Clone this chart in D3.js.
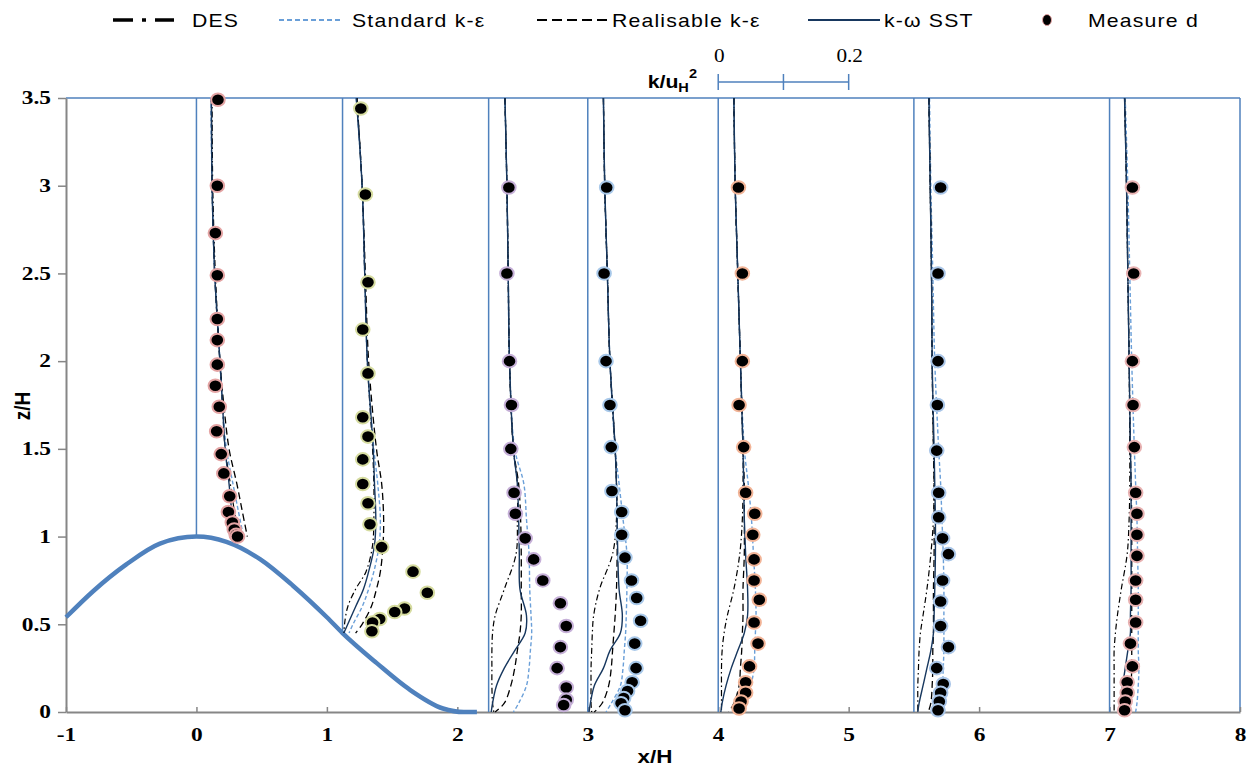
<!DOCTYPE html>
<html>
<head>
<meta charset="utf-8">
<script src="https://cdn.jsdelivr.net/npm/d3@7"></script>
<style>
body{margin:0;background:#fff;}
svg{display:block;background:#fff;}
</style>
</head>
<body>
<svg id="svg" width="1260" height="771"></svg>
<script>
// profile stations (x/H) and the ground height under each one
var stations = [0, 1.12, 2.24, 3, 4, 5.5, 7];
var stationBase = [1.0, 0.45, 0, 0, 0, 0, 0];

// hill surface
var hillX = [-1, -0.79, -0.54, -0.28, 0, 0.23, 0.49, 0.74, 1.0, 1.12, 1.38, 1.63, 1.89, 2.05, 2.15];
var hillZ = [0.54, 0.69, 0.84, 0.96, 1.0, 0.97, 0.87, 0.72, 0.54, 0.45, 0.28, 0.13, 0.02, 0.0, 0.0];

// z/H levels of the model curves
var zHill = [3.5, 3.0, 2.5, 2.0, 1.75, 1.5, 1.3, 1.15, 1.0];
var zLee = [3.5, 3.0, 2.5, 2.0, 1.5, 1.3, 1.1, 0.95, 0.8, 0.7, 0.6, 0.5, 0.45];
var zFlat = [3.5, 3.0, 2.5, 2.0, 1.5, 1.3, 1.1, 0.9, 0.7, 0.55, 0.45, 0.35, 0.25, 0.15, 0.05, 0];
var modelZ = [zHill, zLee, zFlat, zFlat, zFlat, zFlat, zFlat];

// k/uH^2 of each model, one array per station
var desK = [
  [0.024, 0.025, 0.029, 0.036, 0.040, 0.044, 0.052, 0.058, 0.066],
  [0.022, 0.030, 0.034, 0.038, 0.046, 0.048, 0.048, 0.046, 0.036, 0.020, 0.008, 0.003, 0.002],
  [0.025, 0.028, 0.030, 0.032, 0.038, 0.044, 0.044, 0.042, 0.024, 0.010, 0.006, 0.005, 0.005, 0.005, 0.006, 0.008],
  [0.024, 0.026, 0.030, 0.034, 0.042, 0.044, 0.044, 0.038, 0.018, 0.009, 0.007, 0.006, 0.005, 0.005, 0.005, 0.006],
  [0.024, 0.026, 0.030, 0.034, 0.038, 0.038, 0.037, 0.033, 0.024, 0.014, 0.009, 0.006, 0.005, 0.005, 0.005, 0.005],
  [0.023, 0.025, 0.027, 0.028, 0.030, 0.031, 0.030, 0.026, 0.020, 0.014, 0.010, 0.008, 0.007, 0.006, 0.006, 0.006],
  [0.023, 0.026, 0.028, 0.030, 0.031, 0.031, 0.030, 0.027, 0.018, 0.012, 0.009, 0.007, 0.007, 0.007, 0.007, 0.007]
];
var stdK = [
  [0.022, 0.024, 0.028, 0.036, 0.040, 0.046, 0.056, 0.064, 0.072],
  [0.021, 0.030, 0.034, 0.038, 0.048, 0.054, 0.058, 0.056, 0.048, 0.040, 0.030, 0.016, 0.010],
  [0.025, 0.028, 0.030, 0.032, 0.040, 0.054, 0.058, 0.062, 0.063, 0.065, 0.066, 0.064, 0.062, 0.058, 0.046, 0.038],
  [0.024, 0.026, 0.030, 0.034, 0.042, 0.048, 0.054, 0.060, 0.060, 0.059, 0.058, 0.056, 0.054, 0.050, 0.036, 0.028],
  [0.024, 0.026, 0.030, 0.034, 0.040, 0.046, 0.051, 0.054, 0.057, 0.058, 0.057, 0.056, 0.055, 0.050, 0.042, 0.038],
  [0.024, 0.026, 0.029, 0.032, 0.038, 0.041, 0.043, 0.045, 0.046, 0.046, 0.046, 0.046, 0.045, 0.044, 0.042, 0.040],
  [0.024, 0.028, 0.031, 0.034, 0.038, 0.040, 0.042, 0.043, 0.044, 0.044, 0.044, 0.044, 0.045, 0.044, 0.042, 0.040]
];
var realK = [
  [0.023, 0.024, 0.028, 0.036, 0.042, 0.050, 0.062, 0.070, 0.078],
  [0.022, 0.030, 0.035, 0.040, 0.052, 0.060, 0.063, 0.062, 0.058, 0.052, 0.044, 0.030, 0.020],
  [0.025, 0.028, 0.030, 0.032, 0.038, 0.046, 0.049, 0.050, 0.050, 0.050, 0.048, 0.044, 0.040, 0.034, 0.024, 0.010],
  [0.024, 0.026, 0.030, 0.034, 0.042, 0.044, 0.045, 0.045, 0.044, 0.042, 0.040, 0.038, 0.036, 0.032, 0.022, 0.010],
  [0.024, 0.026, 0.030, 0.034, 0.038, 0.040, 0.040, 0.040, 0.038, 0.038, 0.037, 0.036, 0.034, 0.032, 0.024, 0.016],
  [0.023, 0.025, 0.027, 0.028, 0.030, 0.031, 0.031, 0.031, 0.030, 0.030, 0.030, 0.029, 0.029, 0.028, 0.026, 0.022],
  [0.023, 0.026, 0.028, 0.030, 0.032, 0.033, 0.034, 0.034, 0.034, 0.034, 0.034, 0.034, 0.034, 0.033, 0.032, 0.030]
];
var sstK = [
  [0.023, 0.024, 0.028, 0.036, 0.040, 0.044, 0.050, 0.054, 0.060],
  [0.021, 0.030, 0.034, 0.038, 0.047, 0.049, 0.051, 0.049, 0.040, 0.032, 0.020, 0.008, 0.002],
  [0.025, 0.028, 0.030, 0.032, 0.038, 0.044, 0.046, 0.047, 0.048, 0.058, 0.056, 0.040, 0.024, 0.012, 0.006, 0.004],
  [0.024, 0.026, 0.030, 0.034, 0.042, 0.044, 0.045, 0.046, 0.048, 0.053, 0.050, 0.034, 0.024, 0.010, 0.004, 0.002],
  [0.024, 0.026, 0.030, 0.034, 0.038, 0.039, 0.040, 0.042, 0.045, 0.045, 0.040, 0.030, 0.020, 0.012, 0.006, 0.004],
  [0.023, 0.025, 0.027, 0.028, 0.031, 0.032, 0.033, 0.033, 0.032, 0.031, 0.030, 0.026, 0.020, 0.014, 0.008, 0.006],
  [0.023, 0.026, 0.028, 0.030, 0.032, 0.033, 0.033, 0.033, 0.033, 0.032, 0.032, 0.028, 0.024, 0.020, 0.016, 0.014]
];

// measured points
var measZ = [
  [3.49, 3.0, 2.73, 2.49, 2.24, 2.12, 1.98, 1.86, 1.74, 1.60, 1.47, 1.36, 1.23, 1.14, 1.08, 1.04, 1.01, 1.0],
  [3.44, 2.95, 2.45, 2.18, 1.93, 1.68, 1.57, 1.44, 1.30, 1.19, 1.07, 0.94, 0.80, 0.68, 0.59, 0.57, 0.53, 0.51, 0.46],
  [2.99, 2.5, 2.0, 1.75, 1.5, 1.25, 1.13, 0.99, 0.87, 0.75, 0.62, 0.49, 0.37, 0.25, 0.14, 0.07, 0.04],
  [2.99, 2.5, 2.0, 1.75, 1.51, 1.26, 1.14, 1.01, 0.88, 0.75, 0.65, 0.52, 0.39, 0.25, 0.17, 0.12, 0.08, 0.05, 0.01],
  [2.99, 2.5, 2.0, 1.75, 1.51, 1.25, 1.13, 1.01, 0.87, 0.75, 0.64, 0.51, 0.39, 0.26, 0.17, 0.11, 0.06, 0.02],
  [2.99, 2.5, 2.0, 1.75, 1.49, 1.25, 1.11, 0.99, 0.90, 0.75, 0.63, 0.49, 0.37, 0.25, 0.16, 0.11, 0.06, 0.01],
  [2.99, 2.5, 2.0, 1.75, 1.51, 1.25, 1.13, 1.01, 0.89, 0.75, 0.64, 0.51, 0.39, 0.26, 0.17, 0.11, 0.06, 0.01]
];
var measK = [
  [0.033, 0.032, 0.029, 0.032, 0.032, 0.032, 0.032, 0.029, 0.035, 0.031, 0.038, 0.042, 0.051, 0.049, 0.055, 0.058, 0.061, 0.063],
  [0.028, 0.035, 0.039, 0.031, 0.039, 0.031, 0.039, 0.031, 0.031, 0.039, 0.042, 0.060, 0.108, 0.130, 0.095, 0.080, 0.057, 0.046, 0.045],
  [0.031, 0.028, 0.032, 0.035, 0.034, 0.039, 0.041, 0.056, 0.069, 0.083, 0.110, 0.119, 0.110, 0.105, 0.119, 0.119, 0.115],
  [0.029, 0.025, 0.028, 0.034, 0.036, 0.037, 0.052, 0.052, 0.057, 0.067, 0.075, 0.081, 0.072, 0.074, 0.068, 0.061, 0.055, 0.051, 0.057],
  [0.031, 0.037, 0.037, 0.032, 0.039, 0.042, 0.056, 0.053, 0.055, 0.055, 0.063, 0.055, 0.061, 0.048, 0.042, 0.042, 0.035, 0.032],
  [0.041, 0.037, 0.037, 0.036, 0.035, 0.038, 0.038, 0.044, 0.053, 0.044, 0.041, 0.041, 0.053, 0.035, 0.045, 0.041, 0.039, 0.037],
  [0.035, 0.037, 0.035, 0.036, 0.038, 0.040, 0.042, 0.042, 0.042, 0.040, 0.040, 0.040, 0.032, 0.035, 0.027, 0.027, 0.024, 0.023]
];

var xTicks = [-1, 0, 1, 2, 3, 4, 5, 6, 7, 8];
var yTicks = [0, 0.5, 1, 1.5, 2, 2.5, 3, 3.5];
var scaleTicks = [0, 0.1, 0.2];
var scaleLabels = ["0", "", "0.2"];
var legendNames = ["DES", "Standard k-\u03b5", "Realisable k-\u03b5", "k-\u03c9 SST", "Measure d"];

// styles
var blue = "#4f81bd", navy = "#17375e", lightBlue = "#6a9fd8", grey = "#868686";
var halo = ["#e4a4a4", "#d6dca0", "#c6b0d8", "#a9c9ea", "#f2b497", "#aac6e8", "#e8b2b2"];
var SX = 1.18; // the picture is stretched sideways

var svg = d3.select("#svg");
var x = d3.scaleLinear().domain([-1, 8]).range([66, 1240]);
var y = d3.scaleLinear().domain([0, 3.5]).range([712, 98]);
// k/uH^2 of 0.2 spans one x/H unit
var kx = d3.scaleLinear().domain([0, 0.2]).range([0, x(1) - x(0)]);

var addText = function(px, py, str, size, family, weight, anchor, sx){
    return svg.append("text")
        .attr("transform", "translate(" + px + "," + py + ") scale(" + (sx || SX) + ",1)")
        .attr("font-family", family)
        .attr("font-size", size)
        .attr("font-weight", weight || "normal")
        .attr("text-anchor", anchor || "start")
        .attr("fill", "#000")
        .text(str);
};

// frame: blue top and right
svg.append("line").attr("x1", x(-1)).attr("x2", x(8)).attr("y1", y(3.5)).attr("y2", y(3.5))
    .attr("stroke", blue).attr("stroke-width", 1.5);
svg.append("line").attr("x1", x(8)).attr("x2", x(8)).attr("y1", y(3.5)).attr("y2", y(0))
    .attr("stroke", blue).attr("stroke-width", 1.5);

// axes
var xAxis = svg.append("g").attr("transform", "translate(0," + y(0) + ")")
    .call(d3.axisBottom(x).tickValues(xTicks).tickSizeInner(-5).tickSizeOuter(0).tickPadding(16).tickFormat(function(d){ return String(d); }));
var yAxis = svg.append("g").attr("transform", "translate(" + x(-1) + ",0)")
    .call(d3.axisLeft(y).tickValues(yTicks).tickSizeInner(8).tickSizeOuter(0).tickPadding(7).tickFormat(function(d){ return String(d); }));
[xAxis, yAxis].forEach(function(a){
    a.select(".domain").attr("stroke", grey).attr("stroke-width", 2);
    a.selectAll(".tick line").attr("stroke", grey).attr("stroke-width", 1.5);
    a.selectAll(".tick text")
        .attr("font-family", "'Liberation Serif', serif")
        .attr("font-weight", "bold")
        .attr("font-size", 18)
        .attr("fill", "#000")
        .each(function(){
            var t = d3.select(this), tx = +t.attr("x") || 0;
            t.attr("x", 0).attr("transform", "translate(" + tx + ",0) scale(1.3,1)");
        });
});

// axis titles
addText(655, 763, "x/H", 19, "'Liberation Sans', Arial, sans-serif", "bold", "middle");
svg.append("text")
    .attr("transform", "translate(30,406) rotate(-90) scale(1,1.18)")
    .attr("font-family", "'Liberation Sans', Arial, sans-serif")
    .attr("font-size", 19).attr("font-weight", "bold").attr("text-anchor", "middle")
    .text("z/H");

// hill
var hillLine = d3.line().x(function(d){ return x(d[0]); }).y(function(d){ return y(d[1]); }).curve(d3.curveMonotoneX);
svg.append("path").datum(d3.zip(hillX, hillZ))
    .attr("d", hillLine).attr("fill", "none").attr("stroke", blue).attr("stroke-width", 4.5);

// station baselines
svg.selectAll(".station").data(stations).enter().append("line")
    .attr("class", "station")
    .attr("x1", function(d){ return x(d); }).attr("x2", function(d){ return x(d); })
    .attr("y1", function(d, i){ return y(stationBase[i]); }).attr("y2", y(3.5))
    .attr("stroke", blue).attr("stroke-width", 1.5);

// model profiles
var models = [
    {k: stdK, color: lightBlue, dash: "4,2.5", w: 1.4},
    {k: realK, color: "#000", dash: "7,4", w: 1.3},
    {k: desK, color: "#000", dash: "6,3,1.5,3", w: 1.2},
    {k: sstK, color: navy, dash: null, w: 1.4}
];
var prof = d3.line().x(function(d){ return x(d[0]) + kx(d[1]); }).y(function(d){ return y(d[2]); }).curve(d3.curveCatmullRom);
models.forEach(function(m){
    stations.forEach(function(s, i){
        var pts = modelZ[i].map(function(z, j){ return [s, m.k[i][j], z]; });
        svg.append("path").datum(pts).attr("d", prof)
            .attr("fill", "none").attr("stroke", m.color).attr("stroke-width", m.w)
            .attr("stroke-dasharray", m.dash);
    });
});

// measured points
stations.forEach(function(s, i){
    var pts = measZ[i].map(function(z, j){ return [s, measK[i][j], z]; });
    svg.selectAll(".m" + i).data(pts).enter().append("ellipse")
        .attr("class", "m" + i)
        .attr("cx", function(d){ return x(d[0]) + kx(d[1]); })
        .attr("cy", function(d){ return y(d[2]); })
        .attr("rx", 6.8).attr("ry", 6.3)
        .attr("fill", "#000").attr("stroke", halo[i]).attr("stroke-width", 2);
});

// k scale bar above station 4
var barY = 82;
svg.append("line").attr("x1", x(4) + kx(0)).attr("x2", x(4) + kx(0.2)).attr("y1", barY).attr("y2", barY)
    .attr("stroke", blue).attr("stroke-width", 1.5);
svg.selectAll(".sbt").data(scaleTicks).enter().append("line")
    .attr("class", "sbt")
    .attr("x1", function(d){ return x(4) + kx(d); }).attr("x2", function(d){ return x(4) + kx(d); })
    .attr("y1", barY - 8).attr("y2", barY + 8)
    .attr("stroke", blue).attr("stroke-width", 1.5);
scaleTicks.forEach(function(d, i){
    if (scaleLabels[i]) addText(x(4) + kx(d) + 1, 62, scaleLabels[i], 18, "'Liberation Serif', serif", "normal", "middle");
});
var kl = addText(697, 88, "", 19, "'Liberation Sans', Arial, sans-serif", "bold", "end", 1.12);
kl.append("tspan").text("k/u");
kl.append("tspan").attr("font-size", 13).attr("dy", 4).text("H");
kl.append("tspan").attr("font-size", 13).attr("dy", -14).text("2");

// legend
var legY = 20;
var legSym = [
    {x1: 113, x2: 174, color: "#000", dash: "20,9,4,9,20", w: 3.5},
    {x1: 279, x2: 343, color: lightBlue, dash: "5,3", w: 2},
    {x1: 537, x2: 610, color: "#000", dash: "10,5", w: 2},
    {x1: 808, x2: 880, color: navy, dash: null, w: 2}
];
var legTextX = [192, 352, 612, 884, 1088];
legSym.forEach(function(l){
    svg.append("line").attr("x1", l.x1).attr("x2", l.x2).attr("y1", legY).attr("y2", legY)
        .attr("stroke", l.color).attr("stroke-width", l.w).attr("stroke-dasharray", l.dash);
});
svg.append("ellipse").attr("cx", 1047).attr("cy", legY).attr("rx", 4.5).attr("ry", 5.5)
    .attr("fill", "#000").attr("stroke", "#e4a4a4").attr("stroke-width", 1);
legendNames.forEach(function(n, i){
    addText(legTextX[i], legY + 7, n, 18, "'Liberation Sans', Arial, sans-serif", "normal", "start")
        .attr("letter-spacing", 1);
});
</script>
</body>
</html>
